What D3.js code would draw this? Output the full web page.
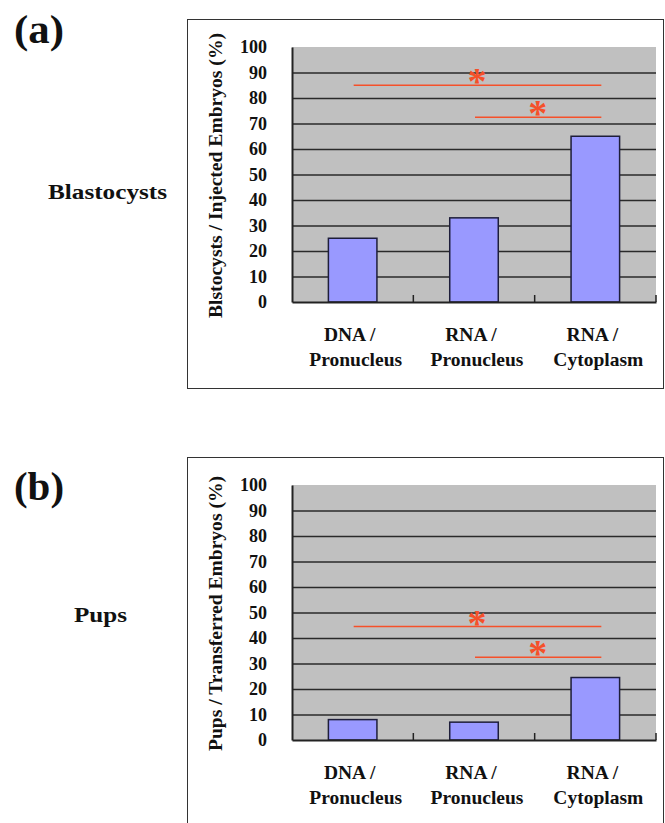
<!DOCTYPE html>
<html>
<head>
<meta charset="utf-8">
<script src="https://cdn.jsdelivr.net/npm/d3@7"></script>
<style>
  body { margin: 0; background: #fff; }
  svg { display: block; }
  text { font-family: "Liberation Serif", "Times New Roman", serif; font-weight: bold; fill: #111; }
</style>
</head>
<body>
<svg width="665" height="823"></svg>
<script>
(function (d3) {
  'use strict';

  // data
  const categories = ['DNA / Pronucleus', 'RNA / Pronucleus', 'RNA / Cytoplasm'];
  const blastocystRates = [25, 33, 65];
  const pupRates = [8, 7, 24.5];
  // [from category index, to category index, bar height in %]
  const blastocystSig = [[0, 2, 85], [1, 2, 72.5]];
  const pupSig = [[0, 2, 44.5], [1, 2, 32.5]];
  const yTicks = [0, 10, 20, 30, 40, 50, 60, 70, 80, 90, 100];

  const svg = d3.select('svg');

  const plotLeft = 292, plotRight = 656, plotH = 255;

  const x = d3.scaleBand()
    .domain(categories)
    .range([plotLeft, plotRight])
    .paddingInner(0.6)
    .paddingOuter(0.3);

  const panel = (props) => {
    const { top, values, sig, letter, letterY, sideLabel, sideLabelX, sideLabelY, sideLabelW, yTitle, yTitleW } = props;

    const y = d3.scaleLinear().domain([0, 100]).range([top + plotH, top]);
    const g = svg.append('g');

    // outer frame
    g.append('rect')
      .attr('x', 187.5)
      .attr('y', top - 27.5)
      .attr('width', 476)
      .attr('height', 369)
      .attr('fill', 'none')
      .attr('stroke', '#333')
      .attr('stroke-width', 1);

    // panel letter and side label
    g.append('text')
      .attr('x', 14)
      .attr('y', letterY)
      .attr('font-size', 41)
      .attr('textLength', 50)
      .attr('lengthAdjust', 'spacingAndGlyphs')
      .text(letter);

    g.append('text')
      .attr('x', sideLabelX)
      .attr('y', sideLabelY)
      .attr('font-size', 20)
      .attr('textLength', sideLabelW)
      .attr('lengthAdjust', 'spacingAndGlyphs')
      .text(sideLabel);

    // plot background
    g.append('rect')
      .attr('x', plotLeft)
      .attr('y', y(100))
      .attr('width', plotRight - plotLeft)
      .attr('height', y(0) - y(100))
      .attr('fill', '#c0c0c0');

    // gridlines
    g.append('g')
      .attr('transform', `translate(${plotLeft},0)`)
      .call(d3.axisLeft(y)
        .tickValues(yTicks.filter(d => d > 0 && d < 100))
        .tickSize(-(plotRight - plotLeft))
        .tickFormat(''))
      .call(s => s.select('.domain').remove())
      .selectAll('line')
        .attr('stroke', '#2a2a2a')
        .attr('stroke-width', 1.5);

    // y axis with labels
    const yAxis = g.append('g')
      .attr('transform', `translate(${plotLeft},0)`)
      .call(d3.axisLeft(y).tickValues(yTicks).tickSize(0).tickPadding(25));
    yAxis.select('.domain')
      .attr('stroke', '#222')
      .attr('stroke-width', 2);
    yAxis.selectAll('text')
      .attr('font-size', 18)
      .attr('font-family', '"Liberation Serif", "Times New Roman", serif')
      .attr('font-weight', 'bold')
      .attr('fill', '#111');

    // y title
    g.append('text')
      .attr('transform', `translate(222,${top + 128.5}) rotate(-90)`)
      .attr('text-anchor', 'middle')
      .attr('font-size', 18)
      .attr('textLength', yTitleW)
      .attr('lengthAdjust', 'spacingAndGlyphs')
      .text(yTitle);

    // bars
    g.selectAll('.bar')
      .data(values)
      .enter().append('rect')
        .attr('class', 'bar')
        .attr('x', (d, i) => x(categories[i]))
        .attr('y', d => y(d))
        .attr('width', x.bandwidth())
        .attr('height', d => y(0) - y(d))
        .attr('fill', '#9999ff')
        .attr('stroke', '#1e1e3a')
        .attr('stroke-width', 1.5);

    // x axis line and category separator ticks
    const xAxis = g.append('g')
      .attr('transform', `translate(0,${y(0)})`)
      .call(d3.axisBottom(x).tickSize(0).tickFormat(''));
    xAxis.select('.domain')
      .attr('stroke', '#222')
      .attr('stroke-width', 2);

    const bounds = categories.slice(1)
      .map(c => x(c) - x.step() * x.paddingInner() / 2)
      .concat([plotRight]);
    g.selectAll('.sep')
      .data(bounds)
      .enter().append('line')
        .attr('class', 'sep')
        .attr('x1', d => d).attr('x2', d => d)
        .attr('y1', y(0)).attr('y2', y(0) - 7)
        .attr('stroke', '#222')
        .attr('stroke-width', 1.5);

    // category labels, two lines each
    const cat = g.selectAll('.cat')
      .data(categories)
      .enter().append('text')
        .attr('class', 'cat')
        .attr('text-anchor', 'middle')
        .attr('font-size', 19.5);
    cat.append('tspan')
      .attr('x', d => x(d) + x.bandwidth() / 2 - 3)
      .attr('y', y(0) + 39)
      .text(d => d.split(' / ')[0] + ' /');
    cat.append('tspan')
      .attr('x', d => x(d) + x.bandwidth() / 2 + 3)
      .attr('y', y(0) + 64)
      .text(d => d.split(' / ')[1]);

    // significance brackets
    const cx = i => x(categories[i]) + x.bandwidth() / 2;
    g.selectAll('.sig')
      .data(sig)
      .enter().append('line')
        .attr('class', 'sig')
        .attr('x1', d => cx(d[0]) + 1)
        .attr('x2', d => cx(d[1]) + 6)
        .attr('y1', d => y(d[2]))
        .attr('y2', d => y(d[2]))
        .attr('stroke', '#f5502a')
        .attr('stroke-width', 1.5);

    g.selectAll('.star')
      .data(sig)
      .enter().append('text')
        .attr('class', 'star')
        .attr('text-anchor', 'middle')
        .attr('x', d => (cx(d[0]) + cx(d[1])) / 2 + 3)
        .attr('y', d => y(d[2]) + 9)
        .attr('font-size', 38)
        .attr('font-weight', 'normal')
        .style('fill', '#f5502a')
        .text('*');
  };

  panel({
    top: 47, values: blastocystRates, sig: blastocystSig,
    letter: '(a)', letterY: 43,
    sideLabel: 'Blastocysts', sideLabelX: 48, sideLabelY: 199, sideLabelW: 119,
    yTitle: 'Blstocysts / Injected Embryos (%)', yTitleW: 285
  });

  panel({
    top: 485, values: pupRates, sig: pupSig,
    letter: '(b)', letterY: 500,
    sideLabel: 'Pups', sideLabelX: 74, sideLabelY: 622, sideLabelW: 53,
    yTitle: 'Pups / Transferred Embryos (%)', yTitleW: 275
  });

}(d3));
</script>
</body>
</html>
